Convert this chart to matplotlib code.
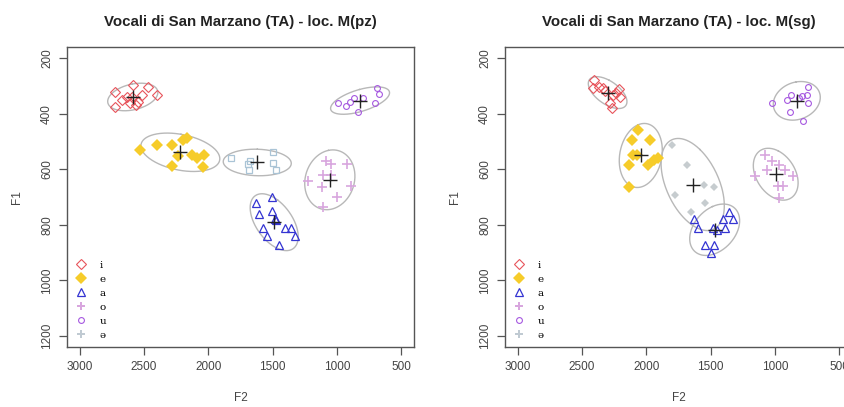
import numpy as np
import matplotlib.pyplot as plt
from matplotlib.lines import Line2D

plt.rcParams['font.family'] = ['Liberation Sans', 'DejaVu Sans']

vowels = ["i", "e", "a", "o", "u", "ə"]
x_ticks = [3000, 2500, 2000, 1500, 1000, 500]
y_ticks = [200, 400, 600, 800, 1000, 1200]

# Speaker M(pz): F2 / F1 in Hz per vowel
pz_f2_i = [2727, 2585, 2468, 2403, 2520, 2675, 2636, 2597, 2546, 2564, 2727, 2611]
pz_f1_i = [321, 296, 303, 333, 333, 351, 339, 339, 357, 369, 375, 363]
pz_f2_e = [2533, 2403, 2286, 2200, 2169, 2131, 2086, 2034, 2040, 2281, 2234]
pz_f1_e = [529, 513, 513, 495, 489, 549, 558, 549, 592, 589, 553]
pz_f2_a = [1629, 1507, 1603, 1507, 1481, 1473, 1572, 1546, 1403, 1357, 1328, 1448]
pz_f1_a = [722, 700, 760, 752, 778, 784, 812, 842, 812, 812, 842, 872]
pz_f2_o = [1084, 1045, 923, 1222, 1110, 1045, 1118, 892, 1001, 1110]
pz_f1_o = [570, 582, 582, 642, 622, 622, 664, 661, 700, 736]
pz_f2_u = [993, 931, 897, 866, 837, 702, 689, 669, 793]
pz_f1_u = [363, 372, 357, 345, 393, 363, 308, 330, 345]
pz_f2_schwa = [1824, 1689, 1681, 1676, 1500, 1494, 1473]
pz_f1_schwa = [559, 580, 604, 570, 537, 576, 604]

# Speaker M(sg)
sg_f2_i = [2408, 2419, 2370, 2336, 2212, 2258, 2207, 2233, 2284, 2266, 2323]
sg_f1_i = [278, 308, 303, 308, 312, 332, 339, 324, 362, 381, 318]
sg_f2_e = [2065, 2111, 1974, 2103, 2070, 2137, 1987, 1941, 1910, 2137]
sg_f1_e = [459, 495, 495, 549, 549, 585, 585, 567, 558, 663]
sg_f2_a = [1630, 1599, 1543, 1501, 1475, 1483, 1450, 1406, 1385, 1359, 1323]
sg_f1_a = [780, 813, 873, 900, 873, 813, 819, 780, 813, 753, 780]
sg_f2_o = [1078, 1026, 966, 920, 1062, 1155, 858, 972, 933, 966]
sg_f1_o = [548, 570, 584, 603, 603, 624, 624, 660, 662, 702]
sg_f2_u = [1026, 907, 871, 811, 786, 752, 742, 742, 881, 778]
sg_f1_u = [362, 350, 332, 342, 336, 332, 303, 362, 393, 426]
sg_f2_schwa = [1801, 1682, 1553, 1475, 1775, 1540, 1651]
sg_f1_schwa = [512, 584, 657, 663, 693, 723, 753]

colors = {"i": "#e8545c", "e": "#f6cc2a", "a": "#3434d2",
          "o": "#d8a6de", "u": "#a658e0", "ə": "#c0cad2"}

styles = {
    "i": dict(marker="D", ms=5.0, mfc="none", mew=0.8),
    "e": dict(marker="D", ms=5.8, mew=0.0),
    "a": dict(marker="^", ms=6.0, mfc="none", mew=0.9),
    "o": dict(marker="+", ms=7.0, mew=1.2),
    "u": dict(marker="o", ms=4.2, mfc="none", mew=0.8),
}
schwa_style = {
    "pz": dict(marker="s", ms=4.8, mfc="none", mew=0.9, color="#aac4d6"),
    "sg": dict(marker="D", ms=3.8, mew=0.0, color="#c6cccf"),
}
legend_styles = dict(styles)
legend_styles["o"] = dict(marker="P", ms=6.0, mew=0.0)
legend_styles["ə"] = dict(marker="P", ms=6.0, mew=0.0)

panels = [
    ("pz", "Vocali di San Marzano (TA) - loc. M(pz)",
     [(pz_f2_i, pz_f1_i), (pz_f2_e, pz_f1_e), (pz_f2_a, pz_f1_a),
      (pz_f2_o, pz_f1_o), (pz_f2_u, pz_f1_u), (pz_f2_schwa, pz_f1_schwa)]),
    ("sg", "Vocali di San Marzano (TA) - loc. M(sg)",
     [(sg_f2_i, sg_f1_i), (sg_f2_e, sg_f1_e), (sg_f2_a, sg_f1_a),
      (sg_f2_o, sg_f1_o), (sg_f2_u, sg_f1_u), (sg_f2_schwa, sg_f1_schwa)]),
]


def data_ellipse(x, y, k=2.0, n=240):
    x = np.asarray(x, float)
    y = np.asarray(y, float)
    vals, vecs = np.linalg.eigh(np.cov(x, y))
    t = np.linspace(0, 2 * np.pi, n)
    circ = np.vstack([np.cos(t), np.sin(t)]) * (k * np.sqrt(vals))[:, None]
    pts = vecs @ circ
    return pts[0] + x.mean(), pts[1] + y.mean()


W, H = 845, 407
fig = plt.figure(figsize=(W / 100, H / 100), dpi=100)
frame_w, frame_h = 347, 300
lefts = [67, 505]
top = 47

for (key, title, sets), left in zip(panels, lefts):
    ax = fig.add_axes([left / W, (H - top - frame_h) / H, frame_w / W, frame_h / H])
    for v, (f2, f1) in zip(vowels, sets):
        ex, ey = data_ellipse(f2, f1)
        ax.plot(ex, ey, color="#b8b8b8", lw=1.0, zorder=2)
    for v, (f2, f1) in zip(vowels, sets):
        if v == "ə":
            ax.plot(f2, f1, ls="none", zorder=3, **schwa_style[key])
        else:
            ax.plot(f2, f1, ls="none", color=colors[v], zorder=3, **styles[v])
        ax.plot(np.mean(f2), np.mean(f1), marker="+", ms=10, mew=1.0,
                color="#222222", ls="none", zorder=4)

    ax.set_xlim(3100, 400)
    ax.set_ylim(1240, 160)
    ax.set_xticks(x_ticks)
    ax.set_yticks(y_ticks)
    ax.set_xticklabels([str(t) for t in x_ticks])
    ax.set_yticklabels([str(t) for t in y_ticks], rotation=90, va="center")
    ax.tick_params(length=6, width=0.9, color="#555555", labelsize=8.5,
                   labelcolor="#444444", pad=4)
    for s in ax.spines.values():
        s.set_color("#555555")
        s.set_linewidth(1.0)
    ax.set_title(title, fontsize=10.8, fontweight="bold", pad=15, color="#222222")
    ax.set_xlabel("F2", fontsize=8.5, color="#444444", labelpad=14)
    ax.set_ylabel("F1", fontsize=8.5, color="#444444", labelpad=13)

    handles = []
    for v in vowels:
        handles.append(Line2D([], [], ls="none", color=colors[v], **legend_styles[v]))
    ax.legend(handles, vowels, loc="lower left", frameon=False,
              prop={"family": "DejaVu Serif", "size": 7.5},
              labelspacing=0.45, handletextpad=1.2, handlelength=1.2,
              borderaxespad=0.3, borderpad=0.4)

fig.savefig("out.png", dpi=100)
